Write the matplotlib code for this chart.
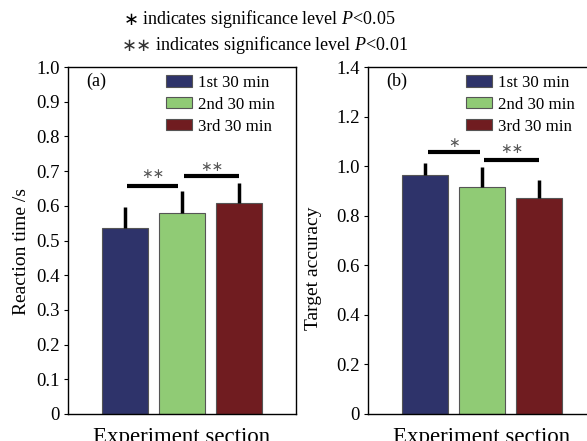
import numpy as np
import matplotlib
matplotlib.use("Agg")
import matplotlib.pyplot as plt
from matplotlib.patches import Patch

plt.rcParams['font.family'] = ['Liberation Serif', 'DejaVu Sans']
plt.rcParams['mathtext.fontset'] = 'custom'
plt.rcParams['mathtext.it'] = 'Liberation Serif:italic'
plt.rcParams['mathtext.rm'] = 'Liberation Serif'

groups = ['1st 30 min', '2nd 30 min', '3rd 30 min']
colors = ['#2e336a', '#90cb75', '#701c20']

# reaction time (s)
rt_mean = [0.536, 0.579, 0.608]
rt_err = [0.060, 0.063, 0.058]
# target accuracy
acc_mean = [0.966, 0.915, 0.872]
acc_err = [0.045, 0.080, 0.073]

# significance brackets: (x0, x1, line y, star y, label)
rt_sig = [(0.04, 0.93, 0.657, 0.693, '∗∗'), (1.04, 2.0, 0.686, 0.713, '∗∗')]
acc_sig = [(0.06, 0.96, 1.056, 1.093, '∗'), (1.04, 2.0, 1.024, 1.069, '∗∗')]

W, H = 587, 441
fig = plt.figure(figsize=(W / 100, H / 100), dpi=100)

ax1 = fig.add_axes([68 / W, 1 - 414 / H, 228 / W, 347 / H])
ax2 = fig.add_axes([368 / W, 1 - 414 / H, 228 / W, 347 / H])

fs = 13
x = np.arange(3)


def panel(ax, means, errs, sig, ymax, yticks, ylabel, ylab_xy, tag):
    ax.bar(x, means, width=0.8, color=colors, edgecolor='#555555', linewidth=0.8, zorder=2)
    ax.errorbar(x, means, yerr=[np.zeros(3), errs], fmt='none', ecolor='black',
                elinewidth=2.5, capsize=0, zorder=3)
    for x0, x1, y, ys, lab in sig:
        ax.plot([x0, x1], [y, y], color='black', lw=3, solid_capstyle='butt', zorder=3)
        ax.text((x0 + x1) / 2, ys, lab, ha='center', va='center',
                fontsize=10, color='#555555', family='DejaVu Sans')
    ax.set_xlim(-1, 3)
    ax.set_ylim(0, ymax)
    ax.set_yticks(yticks)
    ax.set_yticklabels(['0' if t == 0 else '%.1f' % t for t in yticks], fontsize=fs + 0.5)
    ax.set_xticks([])
    ax.tick_params(axis='y', direction='out', length=3, width=0.8, pad=3)
    ax.set_ylabel(ylabel, fontsize=fs + 1)
    ax.yaxis.set_label_coords(*ylab_xy)
    ax.set_xlabel('Experiment section', fontsize=16.5, labelpad=9)
    for s in ax.spines.values():
        s.set_linewidth(1.0)
    ax.text(0.08, 0.983, tag, transform=ax.transAxes, ha='left', va='top', fontsize=fs)
    handles = [Patch(facecolor=c, edgecolor='#555555', linewidth=0.8) for c in colors]
    ax.legend(handles, groups, loc='upper left', bbox_to_anchor=(0.4, 0.997), frameon=False,
              fontsize=12.2, handlelength=1.55, handleheight=0.65, handletextpad=0.35,
              labelspacing=0.35, borderaxespad=0, borderpad=0.4)


panel(ax1, rt_mean, rt_err, rt_sig, 1.0, np.arange(0, 1.01, 0.1), 'Reaction time /s',
      (-0.167, 0.467), '(a)')
panel(ax2, acc_mean, acc_err, acc_sig, 1.4, np.arange(0, 1.41, 0.2), 'Target accuracy',
      (-0.2, 0.42), '(b)')

# header notes
fig.text(139 / W, 1 - 20 / H, '∗', ha='right', va='center', fontsize=fs, family='DejaVu Sans')
fig.text(142 / W, 1 - 19 / H, 'indicates significance level $P$<0.05', ha='left',
         va='center', fontsize=fs)
fig.text(152 / W, 1 - 46 / H, '∗∗', ha='right', va='center', fontsize=fs, family='DejaVu Sans',
         color='#333333')
fig.text(155 / W, 1 - 45 / H, 'indicates significance level $P$<0.01', ha='left',
         va='center', fontsize=fs)

fig.savefig('out.png', dpi=100)
